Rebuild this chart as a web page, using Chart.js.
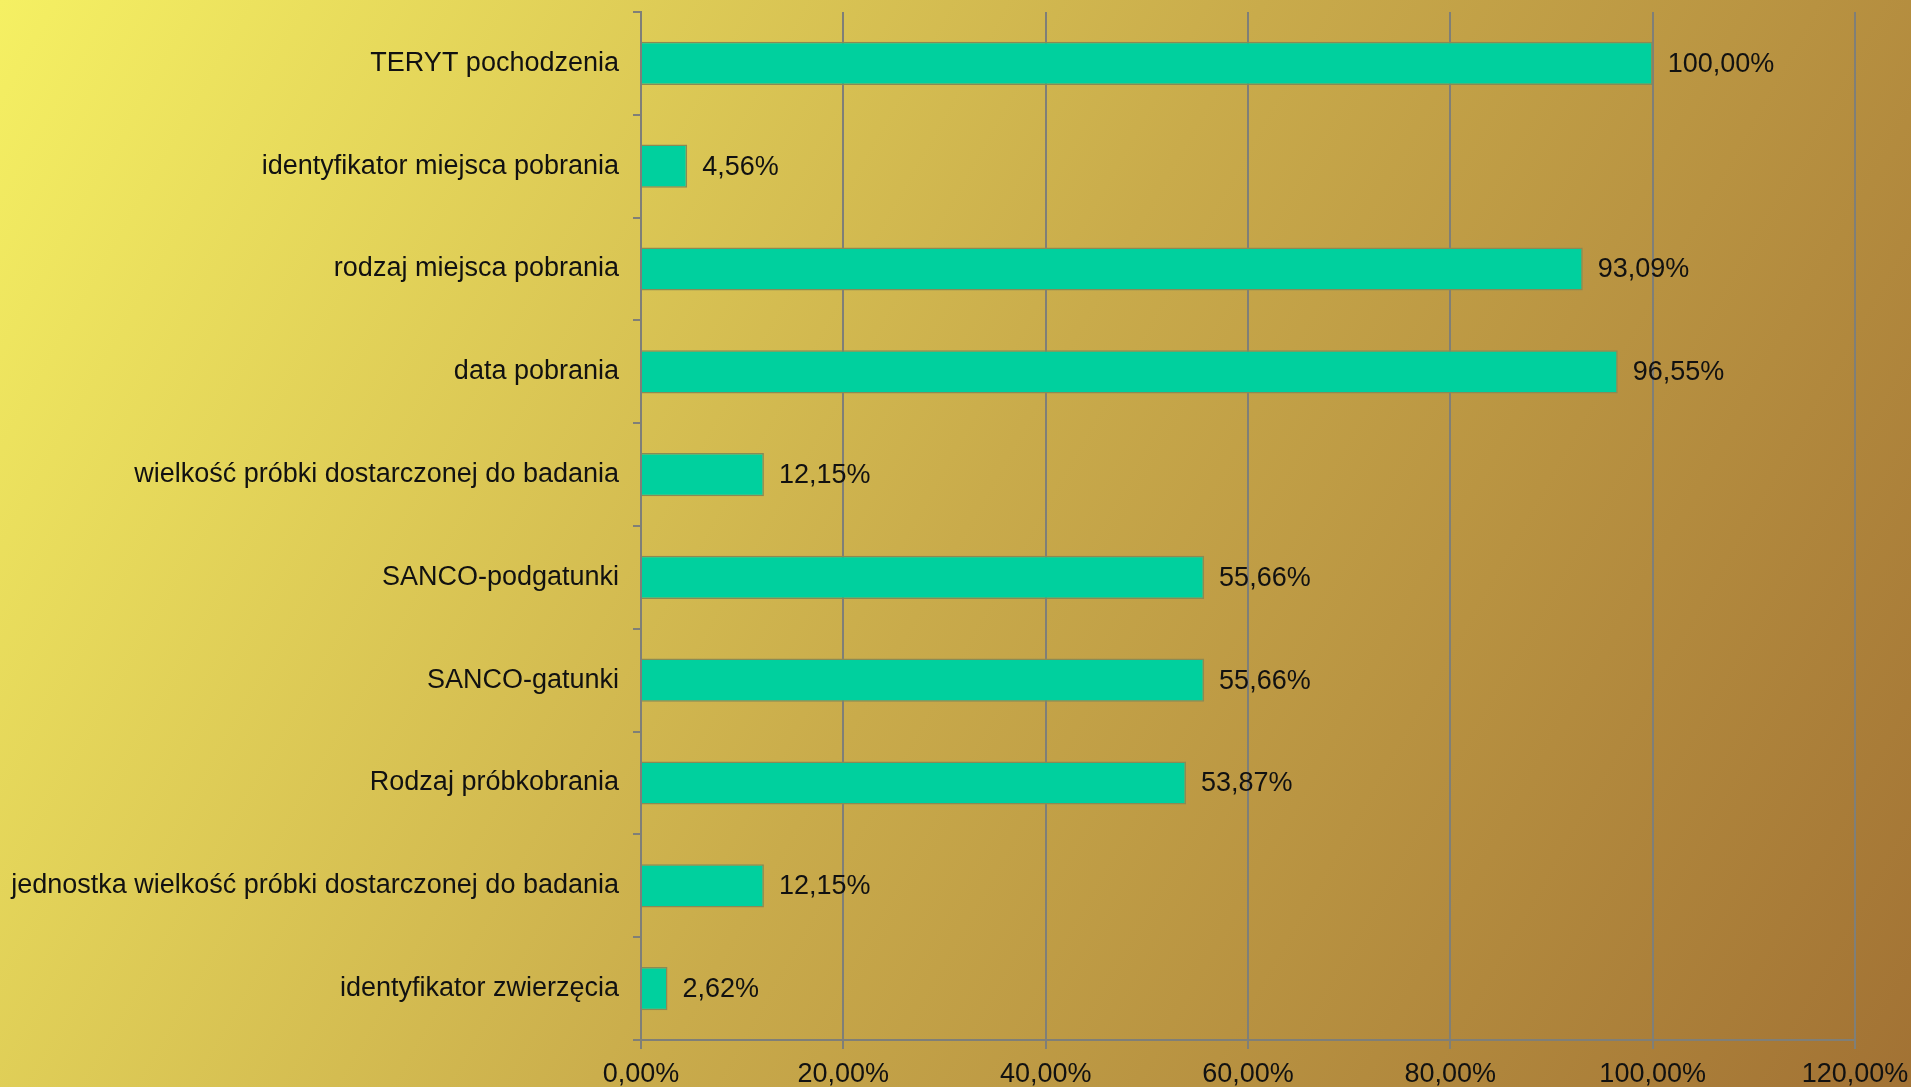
<!DOCTYPE html>
<html>
<head>
<meta charset="utf-8">
<title>Kompletność danych</title>
<script src="https://cdn.jsdelivr.net/npm/chart.js@4/dist/chart.umd.min.js"></script>
<style>
  html, body { margin: 0; padding: 0; overflow: hidden; }
  #wrap { width: 1911px; height: 1087px; }
</style>
</head>
<body>
<div id="wrap"><canvas id="chart" width="1911" height="1087"></canvas></div>
<script>
// categories, top to bottom
const categories = [
  'TERYT pochodzenia',
  'identyfikator miejsca pobrania',
  'rodzaj miejsca pobrania',
  'data pobrania',
  'wielkość próbki dostarczonej do badania',
  'SANCO-podgatunki',
  'SANCO-gatunki',
  'Rodzaj próbkobrania',
  'jednostka wielkość próbki dostarczonej do badania',
  'identyfikator zwierzęcia'
];
// percent values
const values = [100.00, 4.56, 93.09, 96.55, 12.15, 55.66, 55.66, 53.87, 12.15, 2.62];
const xTicks = [0, 20, 40, 60, 80, 100, 120];

const FONT = 'Liberation Sans, Arial, sans-serif';
const pct = v => v.toFixed(2).replace('.', ',') + '%';

// gradient background over the whole canvas
const bgPlugin = {
  id: 'bg',
  beforeDraw(chart) {
    const { ctx, width, height } = chart;
    const g = ctx.createLinearGradient(0, 0, width, height);
    g.addColorStop(0, '#f5f063');
    g.addColorStop(0.5, '#c9ab4b');
    g.addColorStop(1, '#a27234');
    ctx.save();
    ctx.fillStyle = g;
    ctx.fillRect(0, 0, width, height);
    ctx.restore();
  }
};

// value labels to the right of each bar
const labelPlugin = {
  id: 'vals',
  afterDatasetsDraw(chart) {
    const { ctx } = chart;
    const meta = chart.getDatasetMeta(0);
    ctx.save();
    ctx.font = '27px ' + FONT;
    ctx.fillStyle = '#111';
    ctx.textBaseline = 'middle';
    ctx.textAlign = 'left';
    meta.data.forEach((bar, i) => {
      ctx.fillText(pct(values[i]), bar.x + 15, bar.y + 1);
    });
    ctx.restore();
  }
};

new Chart(document.getElementById('chart'), {
  type: 'bar',
  data: {
    labels: categories,
    datasets: [{
      data: values,
      backgroundColor: '#00d09e',
      borderColor: '#8a8a55',
      borderWidth: 1.5,
      categoryPercentage: 0.42,
      barPercentage: 1.0
    }]
  },
  options: {
    indexAxis: 'y',
    responsive: false,
    animation: false,
    layout: { padding: { top: 12, right: 56, left: 0, bottom: 0 } },
    plugins: { legend: { display: false }, tooltip: { enabled: false } },
    scales: {
      x: {
        min: 0,
        max: 120,
        afterBuildTicks(scale) { scale.ticks = xTicks.map(v => ({ value: v })); },
        afterFit(scale) {
          scale.height = 47;
          scale.paddingLeft = 0;
          scale.paddingRight = 0;
        },
        grid: { color: '#7f7f78', lineWidth: 2, tickLength: 9, drawTicks: true },
        border: { color: '#7f7f78', width: 2 },
        ticks: {
          font: { size: 27, family: FONT },
          color: '#111',
          padding: 9,
          maxRotation: 0,
          callback: v => pct(v)
        }
      },
      y: {
        afterFit(scale) {
          scale.width = 641;
          scale.paddingTop = 0;
          scale.paddingBottom = 0;
        },
        grid: { color: '#7f7f78', lineWidth: 2, drawOnChartArea: false, tickLength: 8, offset: true },
        border: { color: '#7f7f78', width: 2 },
        ticks: {
          font: { size: 27, family: FONT },
          color: '#111',
          padding: 14,
          autoSkip: false
        }
      }
    }
  },
  plugins: [bgPlugin, labelPlugin]
});
</script>
</body>
</html>
